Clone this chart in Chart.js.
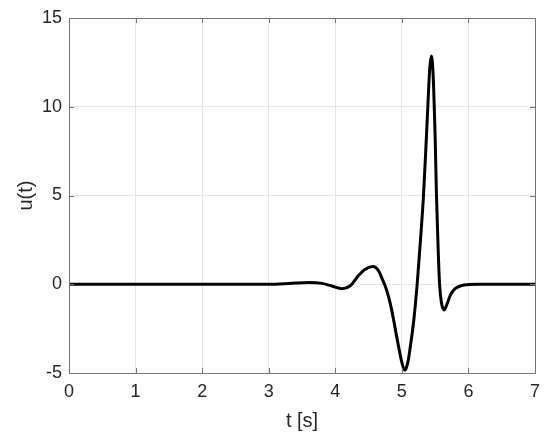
<!DOCTYPE html>
<html>
<head>
<meta charset="utf-8">
<script src="https://cdn.jsdelivr.net/npm/chart.js@4"></script>
<style>
  html, body { margin: 0; padding: 0; background: #fff; }
  #wrap { width: 550px; height: 441px; }
</style>
</head>
<body>
<div id="wrap"><canvas id="uChart" width="550" height="441"></canvas></div>
<script>
// values
const tValues = [0, 1, 2, 3, 3.3, 3.6, 3.8, 3.95, 4.1, 4.22, 4.35, 4.45, 4.57, 4.65, 4.7, 4.75,
  4.8, 4.85, 4.9, 4.95, 5.0, 5.045, 5.09, 5.12, 5.15, 5.18, 5.23, 5.28, 5.325, 5.36, 5.39,
  5.42, 5.445, 5.47, 5.485, 5.5, 5.52, 5.545, 5.565, 5.58, 5.6, 5.635, 5.68, 5.73, 5.8, 5.9, 6.0, 6.15, 7];
const uValues = [0, 0, 0, 0, 0.04, 0.1, 0.05, -0.1, -0.25, -0.1, 0.5, 0.85, 1.0, 0.75, 0.35, -0.1,
  -0.7, -1.5, -2.5, -3.5, -4.4, -4.85, -4.4, -3.7, -2.9, -2.0, 0, 2.5, 5.0, 7.6, 10.0,
  12.2, 12.86, 11.8, 10.2, 8.3, 5.0, 2.0, 0.1, -0.6, -1.15, -1.45, -1.1, -0.6, -0.25, -0.07, -0.02, 0, 0];
const xTicks = [0, 1, 2, 3, 4, 5, 6, 7];
const yTicks = [-5, 0, 5, 10, 15];

const axisColor = '#737373';
const textColor = '#262626';
const gridColor = '#e6e6e6';
const fontFamily = '"Liberation Sans", Arial, Helvetica, sans-serif';

// MATLAB style box with inward ticks on all four sides
const boxPlugin = {
  id: 'matlabBox',
  afterDraw(chart) {
    const { ctx, chartArea: a, scales } = chart;
    const len = 5;
    ctx.save();
    ctx.strokeStyle = axisColor;
    ctx.lineWidth = 1;
    ctx.beginPath();
    xTicks.forEach(v => {
      const px = Math.round(scales.x.getPixelForValue(v)) + 0.5;
      ctx.moveTo(px, a.bottom); ctx.lineTo(px, a.bottom - len);
      ctx.moveTo(px, a.top); ctx.lineTo(px, a.top + len);
    });
    yTicks.forEach(v => {
      const py = Math.round(scales.y.getPixelForValue(v)) + 0.5;
      ctx.moveTo(a.left, py); ctx.lineTo(a.left + len, py);
      ctx.moveTo(a.right, py); ctx.lineTo(a.right - len, py);
    });
    ctx.stroke();
    ctx.strokeRect(Math.round(a.left) + 0.5, Math.round(a.top) + 0.5,
      Math.round(a.right - a.left), Math.round(a.bottom - a.top));
    ctx.restore();
  }
};

const ctx = document.getElementById('uChart').getContext('2d');
const uChart = new Chart(ctx, {
  type: 'line',
  data: {
    datasets: [{
      data: tValues.map((t, i) => ({ x: t, y: uValues[i] })),
      borderColor: '#000000',
      borderWidth: 3,
      pointRadius: 0,
      cubicInterpolationMode: 'monotone',
      fill: false
    }]
  },
  options: {
    responsive: false,
    animation: false,
    layout: { padding: { left: 0, right: 15, top: 18, bottom: 0 } },
    plugins: {
      legend: { display: false },
      tooltip: { enabled: false }
    },
    scales: {
      x: {
        type: 'linear',
        min: 0,
        max: 7,
        afterBuildTicks: s => { s.ticks = xTicks.map(v => ({ value: v })); },
        afterFit: s => { s.height = 68; },
        grid: { color: gridColor, drawTicks: false },
        border: { display: false },
        ticks: { color: textColor, font: { family: fontFamily, size: 18 }, padding: 8, maxRotation: 0 },
        title: { display: true, text: 't [s]', color: textColor, font: { family: fontFamily, size: 20 }, padding: { top: 0, bottom: 8 } }
      },
      y: {
        type: 'linear',
        min: -5,
        max: 15,
        afterBuildTicks: s => { s.ticks = yTicks.map(v => ({ value: v })); },
        afterFit: s => { s.width = 69; },
        grid: { color: gridColor, drawTicks: false },
        border: { display: false },
        ticks: { color: textColor, font: { family: fontFamily, size: 18 }, padding: 7 },
        title: { display: true, text: 'u(t)', color: textColor, font: { family: fontFamily, size: 20 }, padding: { top: 14, bottom: 0 } }
      }
    }
  },
  plugins: [boxPlugin]
});
</script>
</body>
</html>
